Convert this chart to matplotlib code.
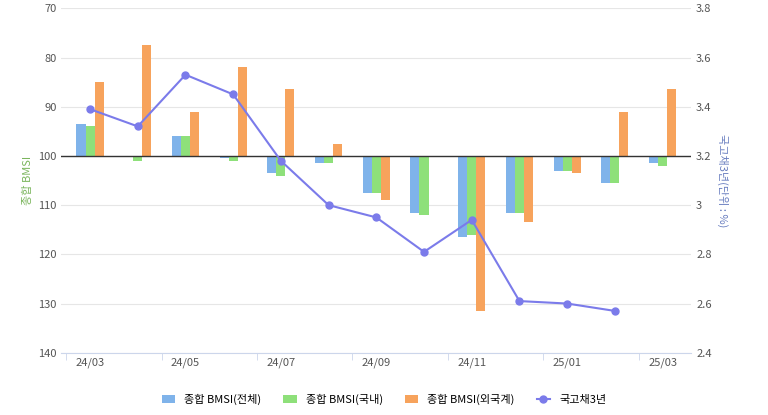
import matplotlib
matplotlib.use('Agg')
import matplotlib.pyplot as plt
import numpy as np

plt.rcParams['font.family'] = ['Noto Sans CJK KR', 'DejaVu Sans']

months = ['24/03', '24/04', '24/05', '24/06', '24/07', '24/08', '24/09',
          '24/10', '24/11', '24/12', '25/01', '25/02', '25/03']
bmsi_total = [93.5, 100.2, 96, 100.5, 103.5, 101.5, 107.5, 111.5, 116.5, 111.5, 103, 105.5, 101.5]
bmsi_dom = [94, 101, 96, 101, 104, 101.5, 107.5, 112, 116, 111.5, 103, 105.5, 102]
bmsi_for = [85, 77.5, 91, 82, 86.5, 97.5, 109, 100, 131.5, 113.5, 103.5, 91, 86.5]
bond3y = [3.39, 3.32, 3.53, 3.45, 3.18, 3.0, 2.95, 2.81, 2.94, 2.61, 2.60, 2.57, np.nan]

fig, ax = plt.subplots()
fig.set_size_inches(7.68, 4.15)

x = np.arange(len(months))
w = 0.19
base = 100
ax.bar(x - w, np.array(bmsi_total) - base, w, bottom=base, color='#7fb3ea', label='종합 BMSI(전체)')
ax.bar(x, np.array(bmsi_dom) - base, w, bottom=base, color='#8ee07a', label='종합 BMSI(국내)')
ax.bar(x + w, np.array(bmsi_for) - base, w, bottom=base, color='#f7a35c', label='종합 BMSI(외국계)')
ax.axhline(100, color='#333333', lw=1)

ax.set_ylim(140, 70)
ax.set_yticks(range(70, 141, 10))
ax.set_xlim(-0.6, 12.6)
ax.set_xticks(np.arange(0, 13, 2))
ax.set_xticklabels(months[::2])
ax.set_xticks(np.arange(-0.5, 13, 2), minor=True)
ax.tick_params(axis='x', which='major', length=0, labelsize=8, colors='#555555')
ax.tick_params(axis='x', which='minor', length=5, color='#ccd6eb')
ax.tick_params(axis='y', length=0, labelsize=8, colors='#555555')
ax.grid(axis='y', color='#e6e6e6')
ax.set_axisbelow(True)
for s in ['top', 'right', 'left']:
    ax.spines[s].set_visible(False)
ax.spines['bottom'].set_color('#ccd6eb')
ax.set_ylabel('종합 BMSI', color='#7ab55c', fontsize=8)

ax2 = ax.twinx()
ax2.plot(x, bond3y, color='#7b7bea', marker='o', ms=5, lw=1.5, label='국고채3년')
ax2.set_ylim(2.4, 3.8)
ax2.set_yticks(np.arange(2.4, 3.81, 0.2))
ax2.set_yticklabels(['2.4', '2.6', '2.8', '3', '3.2', '3.4', '3.6', '3.8'])
ax2.tick_params(axis='y', length=0, labelsize=8, colors='#555555')
for s in ax2.spines.values():
    s.set_visible(False)
ax2.set_ylabel('국고채3년(단위 : %)', color='#6a7fc0', fontsize=8, rotation=270, labelpad=12)

h1, l1 = ax.get_legend_handles_labels()
h2, l2 = ax2.get_legend_handles_labels()
fig.legend(h1 + h2, l1 + l2, loc='lower center', ncol=4, frameon=False, fontsize=8,
           bbox_to_anchor=(0.5, 0.0), handlelength=1.2)

plt.subplots_adjust(left=0.08, right=0.9, top=0.98, bottom=0.15)
fig.savefig('out.png', dpi=100)
